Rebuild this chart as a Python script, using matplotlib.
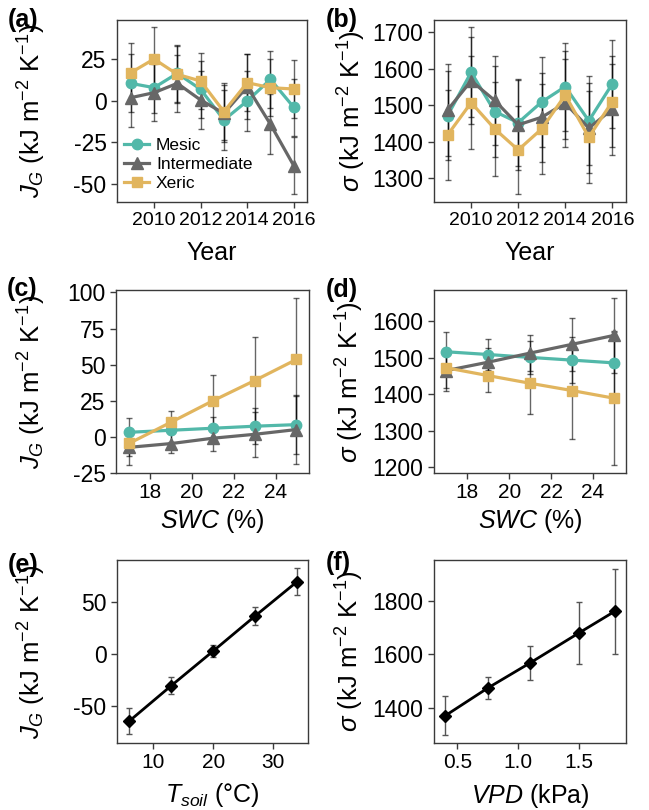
import numpy as np
import matplotlib
matplotlib.use('Agg')
import matplotlib.pyplot as plt
import matplotlib.transforms as mtransforms

# Datos
anios = [2009, 2010, 2011, 2012, 2013, 2014, 2015, 2016]

jg_mesic = [10.4, 7.8, 16.4, 6.8, -11.6, -0.2, 12.8, -4.0]
jg_inter = [1.8, 4.8, 10.4, 0.4, -7.6, 8.4, -14.2, -39.0]
jg_xeric = [16.8, 25.0, 15.8, 11.8, -6.6, 10.8, 7.8, 7.0]
jg_mesic_err = [17.4, 15.0, 17.0, 17.0, 18.0, 18.0, 17.2, 17.0]
jg_inter_err = [17.4, 17.0, 17.0, 17.4, 17.0, 19.4, 18.0, 17.0]
jg_xeric_err = [17.8, 19.0, 17.0, 17.0, 17.0, 17.0, 17.0, 17.4]

sig_mesic = [1471.6, 1590.6, 1482.6, 1452, 1509, 1551, 1457, 1558.6]
sig_inter = [1487, 1567, 1513, 1446, 1467, 1505.5, 1437, 1489]
sig_xeric = [1418.5, 1507, 1435, 1377, 1435, 1528, 1412, 1510]
sig_mesic_err = [122, 123, 125, 120, 123, 121, 122, 120]
sig_inter_err = [126, 120, 123, 124, 122, 121, 124, 125]
sig_xeric_err = [123, 128, 129, 120, 124, 122, 126, 124]

swc = [17, 19, 21, 23, 25]
jg_swc_mesic = [3.2, 4.6, 6.0, 7.4, 8.5]
jg_swc_inter = [-7.2, -4.6, -0.9, 1.8, 5.1]
jg_swc_xeric = [-4.4, 10.2, 25.0, 39.0, 53.6]
jg_swc_mesic_err = [10, 8, 7.6, 12.5, 20]
jg_swc_inter_err = [12.2, 6.4, 9, 15.7, 23.6]
jg_swc_xeric_err = [9, 7.6, 17.7, 30, 42.7]

sig_swc_mesic = [1516.5, 1509, 1501, 1493.6, 1486]
sig_swc_inter = [1465, 1488, 1513, 1537, 1561.5]
sig_swc_xeric = [1472.5, 1451, 1430, 1410, 1389]
sig_swc_mesic_err = [53, 43, 45, 63, 85]
sig_swc_inter_err = [55, 40, 50, 73, 103]
sig_swc_xeric_err = [55, 46, 84, 133, 184]

tsoil = [6, 13, 20, 27, 34]
jg_tsoil = [-64.6, -30.5, 2.9, 36.7, 69.8]
jg_tsoil_err = [12.7, 8.0, 5.8, 8.5, 13.2]

vpd = [0.4, 0.75, 1.1, 1.5, 1.8]
sig_vpd = [1371, 1474, 1568, 1679, 1761]
sig_vpd_err = [73, 42, 62, 116, 158]

grupos = ['Mesic', 'Intermediate', 'Xeric']
colores = {'Mesic': '#52B8A9', 'Intermediate': '#676767', 'Xeric': '#E1B55E'}
marcadores = {'Mesic': 'o', 'Intermediate': '^', 'Xeric': 's'}
tam_marcador = {'Mesic': 7.5, 'Intermediate': 8, 'Xeric': 7}

plt.rcParams['font.family'] = ['Liberation Sans', 'DejaVu Sans']
plt.rcParams['mathtext.fontset'] = 'custom'
plt.rcParams['mathtext.rm'] = 'Liberation Sans'
plt.rcParams['mathtext.it'] = 'Liberation Sans:italic'
plt.rcParams['mathtext.bf'] = 'Liberation Sans:bold'
plt.rcParams['axes.unicode_minus'] = False

ETQ_JG = r'$J_G$ (kJ m$^{-2}$ K$^{-1}$)'
ETQ_SIG = r'$\sigma$ (kJ m$^{-2}$ K$^{-1}$)'

W, H = 649, 810


def estilo_ejes(ax, tam_x=15):
    """
    Marco y ticks como en la figura original.
    """
    for s in ax.spines.values():
        s.set_color('#3a3a3a')
        s.set_linewidth(1.0)
    ax.tick_params(direction='out', length=4.5, width=1, color='#3a3a3a', pad=3)
    ax.tick_params(axis='y', labelsize=16.5)
    ax.tick_params(axis='x', labelsize=tam_x)


def colocar_etiquetas(fig, ax, ylab_px, xlab_px):
    """
    Posiciona las etiquetas de los ejes en pixeles de la figura.
    """
    t_y = mtransforms.blended_transform_factory(fig.transFigure, ax.transAxes)
    ax.yaxis.set_label_coords(ylab_px / W, 0.5, transform=t_y)
    t_x = mtransforms.blended_transform_factory(ax.transAxes, fig.transFigure)
    ax.xaxis.set_label_coords(0.5, 1 - xlab_px / H, transform=t_x)


def dibujar_grupos(ax, x, series, errores):
    """
    Dibuja las tres series con sus barras de error.
    """
    for g in grupos:
        ax.errorbar(x, series[g], yerr=errores[g], fmt='none', ecolor='black',
                    elinewidth=1.0, capsize=2.5, capthick=1.0, alpha=0.6, zorder=2)
    for g in grupos:
        ax.plot(x, series[g], color=colores[g], marker=marcadores[g],
                markersize=tam_marcador[g], linewidth=2.3, label=g, zorder=3)


def dibujar_simple(ax, x, y, err):
    ax.errorbar(x, y, yerr=err, fmt='none', ecolor='#555555', elinewidth=1.0,
                capsize=2.5, capthick=1.0, zorder=2)
    ax.plot(x, y, color='black', marker='D', markersize=6, linewidth=2.0, zorder=3)


def main():
    fig = plt.figure(figsize=(6.49, 8.10), dpi=100)

    ax_a = fig.add_axes([0.1803, 0.7506, 0.2928, 0.2247])
    ax_b = fig.add_axes([0.6687, 0.7506, 0.2958, 0.2247])
    ax_c = fig.add_axes([0.1787, 0.4160, 0.2974, 0.2259])
    ax_d = fig.add_axes([0.6687, 0.4160, 0.2958, 0.2259])
    ax_e = fig.add_axes([0.1803, 0.0827, 0.2943, 0.2259])
    ax_f = fig.add_axes([0.6687, 0.0827, 0.2958, 0.2259])

    tam_ylab = 18.5

    # (a) JG por año
    dibujar_grupos(ax_a, anios,
                   {'Mesic': jg_mesic, 'Intermediate': jg_inter, 'Xeric': jg_xeric},
                   {'Mesic': jg_mesic_err, 'Intermediate': jg_inter_err, 'Xeric': jg_xeric_err})
    ax_a.set_xlim(2008.41, 2016.57)
    ax_a.set_ylim(-60.8, 48.4)
    ax_a.set_yticks([-50, -25, 0, 25])
    ax_a.set_xticks([2010, 2012, 2014, 2016])
    ax_a.set_xlabel('Year', fontsize=18)
    ax_a.set_ylabel(ETQ_JG, fontsize=tam_ylab)
    ax_a.legend(loc='lower left', frameon=False, fontsize=12.5, handlelength=1.45,
                handletextpad=0.4, labelspacing=0.22, borderaxespad=0.0,
                bbox_to_anchor=(0.0, 0.02))

    # (b) sigma por año
    dibujar_grupos(ax_b, anios,
                   {'Mesic': sig_mesic, 'Intermediate': sig_inter, 'Xeric': sig_xeric},
                   {'Mesic': sig_mesic_err, 'Intermediate': sig_inter_err, 'Xeric': sig_xeric_err})
    ax_b.set_xlim(2008.42, 2016.58)
    ax_b.set_ylim(1234, 1734)
    ax_b.set_yticks([1300, 1400, 1500, 1600, 1700])
    ax_b.set_xticks([2010, 2012, 2014, 2016])
    ax_b.set_xlabel('Year', fontsize=18)
    ax_b.set_ylabel(ETQ_SIG, fontsize=tam_ylab)

    # (c) JG vs SWC
    dibujar_grupos(ax_c, swc,
                   {'Mesic': jg_swc_mesic, 'Intermediate': jg_swc_inter, 'Xeric': jg_swc_xeric},
                   {'Mesic': jg_swc_mesic_err, 'Intermediate': jg_swc_inter_err, 'Xeric': jg_swc_xeric_err})
    ax_c.set_xlim(16.36, 25.6)
    ax_c.set_ylim(-25, 101.6)
    ax_c.set_yticks([-25, 0, 25, 50, 75, 100])
    ax_c.set_xticks([18, 20, 22, 24])
    ax_c.set_xlabel(r'$SWC$ (%)', fontsize=18)
    ax_c.set_ylabel(ETQ_JG, fontsize=tam_ylab)

    # (d) sigma vs SWC
    dibujar_grupos(ax_d, swc,
                   {'Mesic': sig_swc_mesic, 'Intermediate': sig_swc_inter, 'Xeric': sig_swc_xeric},
                   {'Mesic': sig_swc_mesic_err, 'Intermediate': sig_swc_inter_err, 'Xeric': sig_swc_xeric_err})
    ax_d.set_xlim(16.41, 25.57)
    ax_d.set_ylim(1183.5, 1686)
    ax_d.set_yticks([1200, 1300, 1400, 1500, 1600])
    ax_d.set_xticks([18, 20, 22, 24])
    ax_d.set_xlabel(r'$SWC$ (%)', fontsize=18)
    ax_d.set_ylabel(ETQ_SIG, fontsize=tam_ylab)

    # (e) JG vs Tsoil
    dibujar_simple(ax_e, tsoil, jg_tsoil, jg_tsoil_err)
    ax_e.set_xlim(3.96, 35.8)
    ax_e.set_ylim(-85.7, 90.5)
    ax_e.set_yticks([-50, 0, 50])
    ax_e.set_xticks([10, 20, 30])
    ax_e.set_xlabel(r'$T_{soil}$ (°C)', fontsize=18)
    ax_e.set_ylabel(ETQ_JG, fontsize=tam_ylab)

    # (f) sigma vs VPD
    dibujar_simple(ax_f, vpd, sig_vpd, sig_vpd_err)
    ax_f.set_xlim(0.307, 1.891)
    ax_f.set_ylim(1269, 1952)
    ax_f.set_yticks([1400, 1600, 1800])
    ax_f.set_xticks([0.5, 1.0, 1.5])
    ax_f.set_xlabel(r'$VPD$ (kPa)', fontsize=18)
    ax_f.set_ylabel(ETQ_SIG, fontsize=tam_ylab)

    estilo_ejes(ax_a, tam_x=14)
    estilo_ejes(ax_b, tam_x=14)
    for ax in [ax_c, ax_d, ax_e, ax_f]:
        estilo_ejes(ax, tam_x=15)

    # Posicion de las etiquetas de los ejes (pixeles)
    colocar_etiquetas(fig, ax_a, 48, 241)
    colocar_etiquetas(fig, ax_b, 368, 241)
    colocar_etiquetas(fig, ax_c, 48, 507)
    colocar_etiquetas(fig, ax_d, 366, 507)
    colocar_etiquetas(fig, ax_e, 48, 781)
    colocar_etiquetas(fig, ax_f, 366, 782)

    # Etiquetas de panel
    etiquetas = [('(a)', 8, 8), ('(b)', 326, 8), ('(c)', 7, 277),
                 ('(d)', 326, 278), ('(e)', 8, 553), ('(f)', 326, 551)]
    for txt, px, py in etiquetas:
        fig.text(px / W, 1 - py / H, txt, fontsize=18, fontweight='bold',
                 ha='left', va='top')

    fig.savefig('out.png', dpi=100)


if __name__ == "__main__":
    main()
